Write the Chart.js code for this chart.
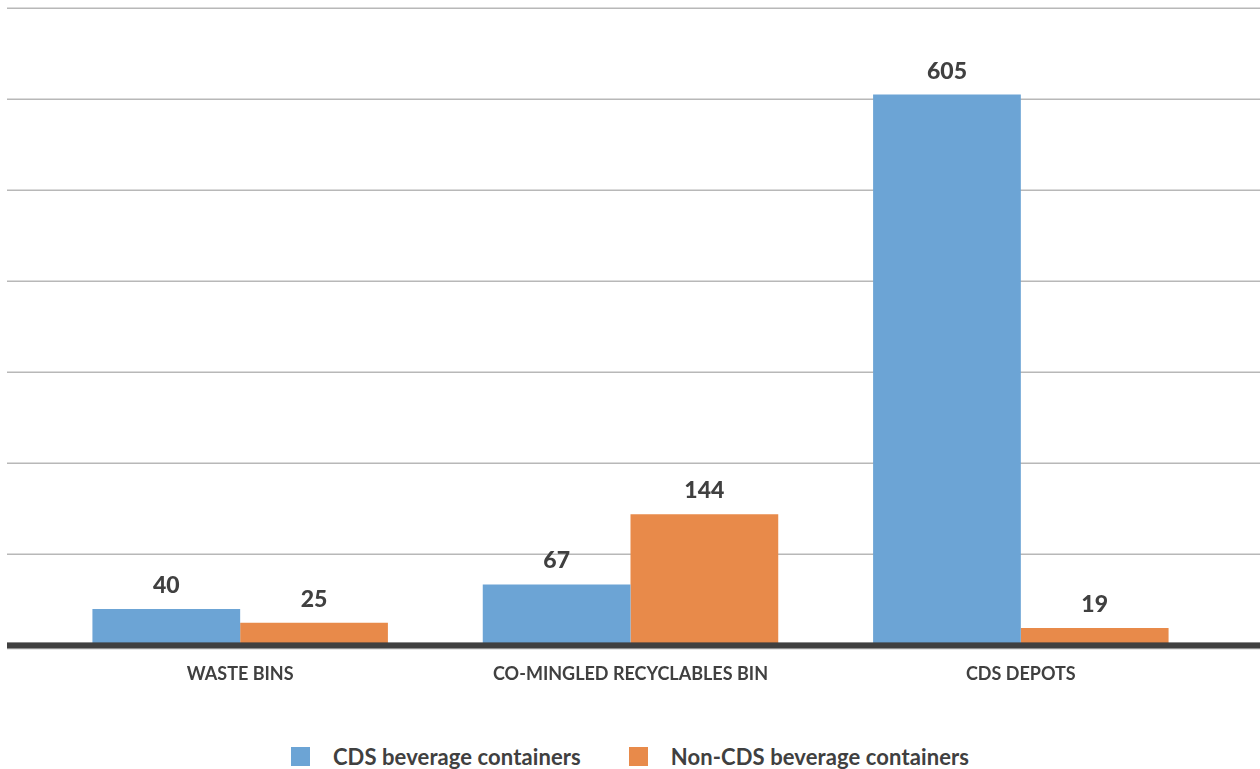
<!DOCTYPE html>
<html>
<head>
<meta charset="utf-8">
<script src="https://cdn.jsdelivr.net/npm/chart.js@4/dist/chart.umd.min.js"></script>
<style>
	body { margin: 0; background: #fff; font-family: Lato, "Open Sans", sans-serif; }
	#wrap { position: relative; width: 1260px; height: 722px; }
	#legend { position: absolute; top: 743px; left: 0; width: 1260px; display: flex; justify-content: center; }
	.item { display: flex; align-items: center; margin: 0 24px; font-weight: 700; font-size: 22px; color: #404040; letter-spacing: 0.1px; }
	.swatch { width: 19px; height: 19px; margin-right: 23px; }
</style>
</head>
<body>
<div id="wrap"><canvas id="myChart"></canvas></div>
<div id="legend"></div>

<script>
const categories = ["WASTE BINS", "CO-MINGLED RECYCLABLES BIN", "CDS DEPOTS"];
const seriesNames = ["CDS beverage containers", "Non-CDS beverage containers"];
const cdsValues = [40, 67, 605];
const nonCdsValues = [25, 144, 19];
const seriesColors = ["#6ca4d5", "#e88a4a"];

const TEXT_COLOR = "#404040";

// grid lines and the base line run the full width, past the plot area
const fullWidthGrid = {
	id: "fullWidthGrid",
	beforeDatasetsDraw(chart) {
		const ctx = chart.ctx;
		const yScale = chart.scales.y;
		ctx.save();
		ctx.strokeStyle = "#b8b8b8";
		ctx.lineWidth = 1.5;
		for (const tick of yScale.ticks) {
			if (tick.value === 0) continue;
			const y = Math.round(yScale.getPixelForValue(tick.value)) + 0.25;
			ctx.beginPath();
			ctx.moveTo(7, y);
			ctx.lineTo(chart.width, y);
			ctx.stroke();
		}
		ctx.restore();
	},
	afterDatasetsDraw(chart) {
		const ctx = chart.ctx;
		const y0 = chart.scales.y.getPixelForValue(0);
		ctx.save();
		ctx.fillStyle = "#c4c4c4";
		ctx.fillRect(7, y0 + 2, chart.width - 7, 2);
		ctx.fillStyle = TEXT_COLOR;
		ctx.fillRect(7, y0 - 3, chart.width - 7, 6);
		ctx.restore();
	}
};

// value printed above each bar
const barValues = {
	id: "barValues",
	afterDatasetsDraw(chart) {
		const ctx = chart.ctx;
		ctx.save();
		ctx.font = "900 23px Lato, sans-serif";
		ctx.fillStyle = TEXT_COLOR;
		ctx.textAlign = "center";
		ctx.textBaseline = "alphabetic";
		chart.data.datasets.forEach((ds, i) => {
			chart.getDatasetMeta(i).data.forEach((bar, j) => {
				ctx.fillText(ds.data[j], bar.x, bar.y - 16);
			});
		});
		ctx.restore();
	}
};

const chart = new Chart("myChart", {
	type: "bar",
	data: {
		labels: categories,
		datasets: [
			{ label: seriesNames[0], data: cdsValues, backgroundColor: seriesColors[0] },
			{ label: seriesNames[1], data: nonCdsValues, backgroundColor: seriesColors[1] }
		]
	},
	options: {
		responsive: true,
		maintainAspectRatio: false,
		animation: false,
		datasets: {
			bar: { categoryPercentage: 0.757, barPercentage: 1.0, borderWidth: 0 }
		},
		layout: {
			padding: { top: 8, left: 45, right: 44, bottom: 19 }
		},
		plugins: {
			legend: { display: false },
			tooltip: { enabled: false }
		},
		scales: {
			x: {
				grid: { display: false, drawTicks: false },
				border: { display: false },
				ticks: {
					color: TEXT_COLOR,
					padding: 18,
					font: { family: "Lato, sans-serif", size: 18, weight: "bold" }
				}
			},
			y: {
				display: false,
				min: 0,
				max: 700,
				ticks: { stepSize: 100 }
			}
		}
	},
	plugins: [fullWidthGrid, barValues]
});

// legend below the canvas
const legendBox = document.getElementById("legend");
seriesNames.forEach((name, i) => {
	const item = document.createElement("div");
	item.className = "item";
	item.innerHTML = '<span class="swatch" style="background:' + seriesColors[i] + '"></span>' + name;
	legendBox.appendChild(item);
});
</script>
</body>
</html>
